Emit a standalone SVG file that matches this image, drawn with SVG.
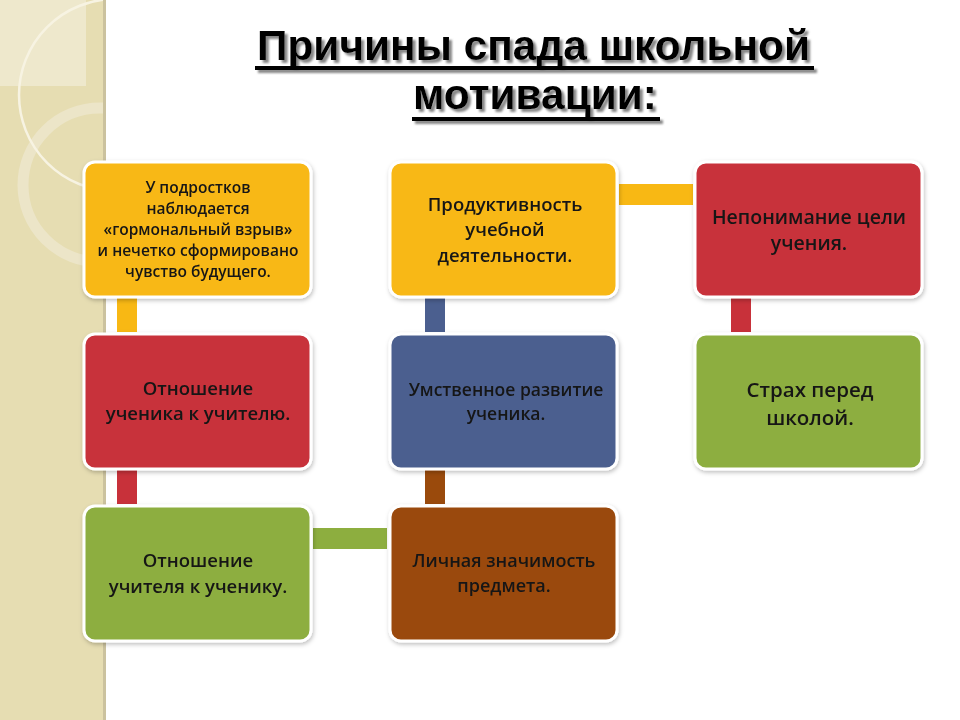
<svg xmlns="http://www.w3.org/2000/svg" width="960" height="720" viewBox="0 0 960 720">
<defs>
<style>
.box{stroke:#ffffff;stroke-width:3}
.t{font-family:"Open Sans","Noto Sans","Liberation Sans",sans-serif;font-weight:600;fill:#161616;text-anchor:middle}
.title{font-family:"Liberation Sans",Arial,sans-serif;font-weight:bold;font-size:43px;fill:#000}
</style>
<filter id="sh" x="-10%" y="-10%" width="120%" height="120%">
<feDropShadow dx="1" dy="2" stdDeviation="2" flood-color="#000" flood-opacity="0.25"/>
</filter>
<filter id="tsh" x="-5%" y="-20%" width="110%" height="140%">
<feDropShadow dx="3" dy="3" stdDeviation="0.8" flood-color="#7a7a7a" flood-opacity="0.9"/>
</filter>
<clipPath id="panel"><rect x="0" y="0" width="103" height="720"/></clipPath>
</defs>
<rect width="960" height="720" fill="#ffffff"/>
<g id="sidebar">
<rect x="0" y="0" width="103" height="720" fill="#E6DDB2"/>
<rect x="0" y="0" width="86" height="86" fill="#EEE8CC"/>
<g clip-path="url(#panel)" fill="none">
<circle cx="100" cy="185" r="77" stroke="#ECE5C8" stroke-width="11"/>
<circle cx="115" cy="95" r="96" stroke="#F7F3E2" stroke-width="2.5"/>
</g>
<rect x="103" y="0" width="3" height="720" fill="#CBC29E"/>
</g>
<g id="title" filter="url(#tsh)">
<text class="title" x="257" y="60" textLength="553" lengthAdjust="spacingAndGlyphs">Причины спада школьной</text>
<rect x="255" y="66" width="559" height="4" fill="#000"/>
<text class="title" x="413" y="109" textLength="244" lengthAdjust="spacingAndGlyphs">мотивации:</text>
<rect x="412" y="117" width="248" height="4" fill="#000"/>
</g>
<g id="connectors">
<rect x="117" y="298" width="20" height="34" fill="#F8B814"/>
<rect x="117" y="470" width="20" height="34" fill="#C8313A"/>
<rect x="313" y="528" width="74" height="21" fill="#8DAE3F"/>
<rect x="425" y="298" width="20" height="34" fill="#4B5F8F"/>
<rect x="425" y="470" width="20" height="34" fill="#9A4A0C"/>
<rect x="619" y="184" width="74" height="21" fill="#F8B814"/>
<rect x="731" y="298" width="20" height="34" fill="#C8313A"/>
</g>
<g id="n1" filter="url(#sh)">
<rect class="box" x="84" y="162" width="227" height="135" rx="11" fill="#F8B814"/>
<text class="t" font-size="15.5"><tspan x="198" y="193">У подростков</tspan><tspan x="198" y="214">наблюдается</tspan><tspan x="198" y="235">«гормональный взрыв»</tspan><tspan x="198" y="256">и нечетко сформировано</tspan><tspan x="198" y="277">чувство будущего.</tspan></text>
</g>
<g id="n2" filter="url(#sh)">
<rect class="box" x="84" y="334" width="227" height="135" rx="11" fill="#C8313A"/>
<text class="t" font-size="18.5"><tspan x="198" y="395">Отношение</tspan><tspan x="198" y="420">ученика к учителю.</tspan></text>
</g>
<g id="n3" filter="url(#sh)">
<rect class="box" x="84" y="506" width="227" height="135" rx="11" fill="#8DAE3F"/>
<text class="t" font-size="18.5"><tspan x="198" y="567">Отношение</tspan><tspan x="198" y="593">учителя к ученику.</tspan></text>
</g>
<g id="n4" filter="url(#sh)">
<rect class="box" x="390" y="162" width="227" height="135" rx="11" fill="#F8B814"/>
<text class="t" font-size="18.5"><tspan x="505" y="211">Продуктивность</tspan><tspan x="505" y="236">учебной</tspan><tspan x="505" y="262">деятельности.</tspan></text>
</g>
<g id="n5" filter="url(#sh)">
<rect class="box" x="390" y="334" width="227" height="135" rx="11" fill="#4B5F8F"/>
<text class="t" font-size="17.5"><tspan x="506" y="396">Умственное развитие</tspan><tspan x="506" y="420">ученика.</tspan></text>
</g>
<g id="n6" filter="url(#sh)">
<rect class="box" x="390" y="506" width="227" height="135" rx="11" fill="#9A4A0C"/>
<text class="t" font-size="18"><tspan x="504" y="567">Личная значимость</tspan><tspan x="504" y="592">предмета.</tspan></text>
</g>
<g id="n7" filter="url(#sh)">
<rect class="box" x="695" y="162" width="227" height="135" rx="11" fill="#C8313A"/>
<text class="t" font-size="19.5"><tspan x="809" y="224">Непонимание цели</tspan><tspan x="809" y="250">учения.</tspan></text>
</g>
<g id="n8" filter="url(#sh)">
<rect class="box" x="695" y="334" width="227" height="135" rx="11" fill="#8DAE3F"/>
<text class="t" font-size="20.5"><tspan x="810" y="397">Страх перед</tspan><tspan x="810" y="425">школой.</tspan></text>
</g>
</svg>
